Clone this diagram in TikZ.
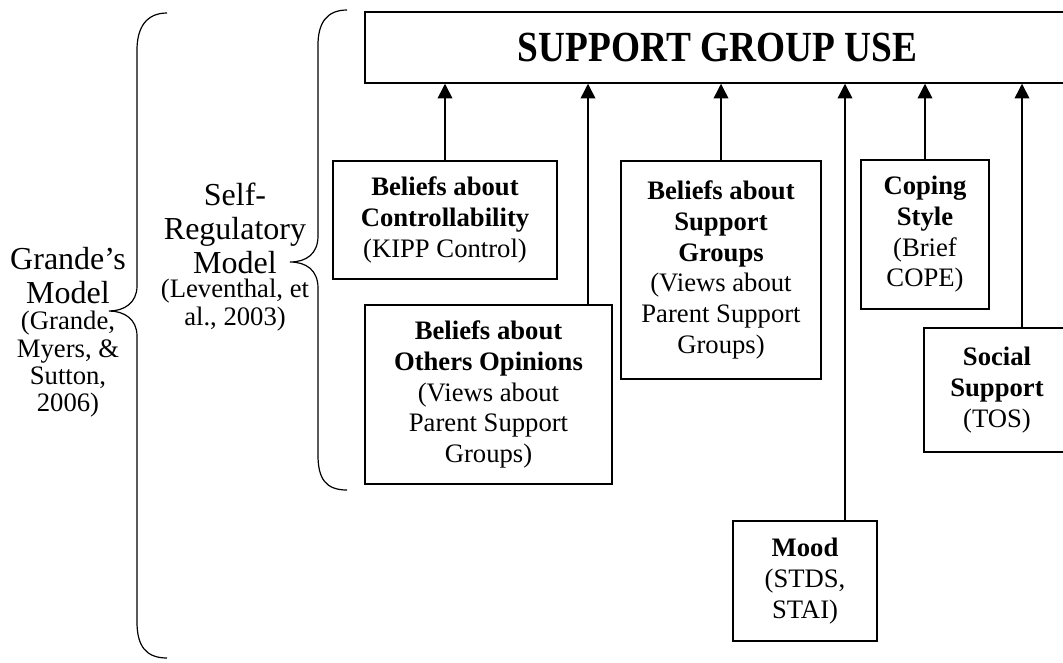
\documentclass[tikz,border=0pt]{standalone}
\usepackage{fontspec}
\setmainfont{Liberation Serif}
\usetikzlibrary{arrows.meta,positioning,calc}

\begin{document}
\begin{tikzpicture}[
  x=0.75pt, y=-0.75pt,
  sgbox/.style = {draw, line width=1.1pt, align=center, inner sep=0pt,
    font=\fontsize{20}{23}\selectfont},
  sgarrow/.style = {line width=1.1pt, -{Triangle[length=11pt,width=11pt]}},
  sgbrace/.style = {line width=0.9pt},
  sgbig/.style = {align=center, inner sep=0pt, font=\fontsize{24}{25.5}\selectfont},
  sgcite/.style = {align=center, inner sep=0pt, font=\fontsize{20}{20.5}\selectfont}
]
  \useasboundingbox (0,0) rectangle (1063,662);
  % outcome
  \node[sgbox, minimum width=528.75pt, minimum height=53.25pt,
    font=\fontsize{28}{32}\selectfont\bfseries] (use) at (717.5,47.5)
    {\scalebox{1}[1.15]{SUPPORT GROUP USE}};
  % predictors
  \node[sgbox, minimum width=168pt, minimum height=88.5pt] (ctrl) at (445,220)
    {\textbf{Beliefs about}\\\textbf{Controllability}\\(KIPP Control)};
  \node[sgbox, minimum width=185.25pt, minimum height=134.25pt] (others) at (488.5,394.5)
    {\textbf{Beliefs about}\\\textbf{Others Opinions}\\(Views about\\Parent Support\\Groups)};
  \node[sgbox, minimum width=150pt, minimum height=163.5pt] (groups) at (721,270)
    {\textbf{Beliefs about}\\\textbf{Support}\\\textbf{Groups}\\(Views about\\Parent Support\\Groups)};
  \node[sgbox, minimum width=96pt, minimum height=111.75pt] (coping) at (925,234.5)
    {\textbf{Coping}\\\textbf{Style}\\(Brief\\COPE)};
  \node[sgbox, minimum width=108pt, minimum height=90pt] (mood) at (805,581)
    {\textbf{Mood}\\(STDS,\\STAI)};
  \node[sgbox, minimum width=109.5pt, minimum height=93pt] (social) at (997,390)
    {\textbf{Social}\\\textbf{Support}\\(TOS)};
  % arrows into the outcome
  \coordinate (othersin) at ($(others.north)+(99.5,0)$);
  \coordinate (moodin) at ($(mood.north)+(40,0)$);
  \coordinate (socialin) at ($(social.north)+(25,0)$);
  \draw[sgarrow] (ctrl.north) -- (ctrl.north |- use.south);
  \draw[sgarrow] (othersin) -- (othersin |- use.south);
  \draw[sgarrow] (groups.north) -- (groups.north |- use.south);
  \draw[sgarrow] (moodin) -- (moodin |- use.south);
  \draw[sgarrow] (coping.north) -- (coping.north |- use.south);
  \draw[sgarrow] (socialin) -- (socialin |- use.south);
  % model labels
  \node[sgbig] (selfreg) at (235,228) {Self-\\Regulatory\\Model};
  \node[sgcite, below=4pt of selfreg] (leventhal) {(Leventhal, et\\al., 2003)};
  \node[sgbig] (grande) at (68,276) {Grande’s\\Model};
  \node[sgcite, below=5pt of grande] (grandecite) {(Grande,\\Myers, \&\\Sutton,\\2006)};
  % braces
  \draw[sgbrace] (347,10) .. controls (326,10) and (318,24) .. (318,45)
    -- (318,236) .. controls (318,254) and (306,262) .. (290,262)
    .. controls (306,262) and (318,270) .. (318,288)
    -- (318,455) .. controls (318,479) and (326,490) .. (347,490);
  \draw[sgbrace] (167,13) .. controls (146,13) and (137,28) .. (137,50)
    -- (137,286) .. controls (137,303) and (124,311) .. (109,311)
    .. controls (124,311) and (137,319) .. (137,336)
    -- (137,622) .. controls (137,646) and (146,658) .. (167,658);
\end{tikzpicture}
\end{document}
